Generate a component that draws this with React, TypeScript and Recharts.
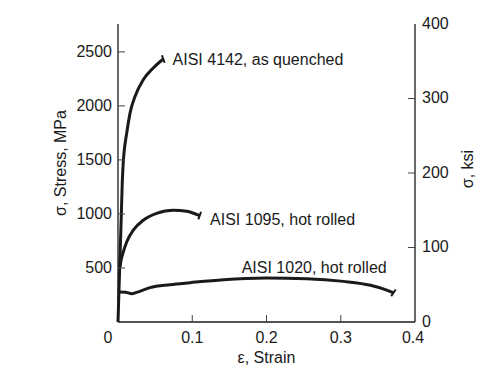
import React from "react";
import { LineChart, Line, XAxis, YAxis, ReferenceDot, Label } from "recharts";

// strain (-) vs engineering stress (MPa)
const aisi4142 = [
  { strain: 0, stress: 0 },
  { strain: 0.0045, stress: 1000 },
  { strain: 0.0058, stress: 1300 },
  { strain: 0.0071, stress: 1480 },
  { strain: 0.0085, stress: 1593 },
  { strain: 0.0117, stress: 1747 },
  { strain: 0.0162, stress: 1933 },
  { strain: 0.0229, stress: 2087 },
  { strain: 0.034, stress: 2242 },
  { strain: 0.0475, stress: 2351 },
  { strain: 0.061, stress: 2434 },
];

const aisi1095 = [
  { strain: 0.0027, stress: 509 },
  { strain: 0.0037, stress: 555 },
  { strain: 0.0071, stress: 648 },
  { strain: 0.0117, stress: 741 },
  { strain: 0.0206, stress: 850 },
  { strain: 0.034, stress: 942 },
  { strain: 0.052, stress: 1005 },
  { strain: 0.0745, stress: 1035 },
  { strain: 0.0925, stress: 1026 },
  { strain: 0.11, stress: 985 },
];

const aisi1020 = [
  { strain: 0.0025, stress: 278 },
  { strain: 0.01, stress: 276 },
  { strain: 0.0185, stress: 262 },
  { strain: 0.025, stress: 274 },
  { strain: 0.043, stress: 318 },
  { strain: 0.07, stress: 345 },
  { strain: 0.097, stress: 364 },
  { strain: 0.142, stress: 392 },
  { strain: 0.2, stress: 407 },
  { strain: 0.254, stress: 401 },
  { strain: 0.3035, stress: 376 },
  { strain: 0.34, stress: 340 },
  { strain: 0.36, stress: 300 },
  { strain: 0.371, stress: 270 },
];

const STRAIN_TICKS = [0, 0.1, 0.2, 0.3, 0.4];
const MPA_TICKS = [500, 1000, 1500, 2000, 2500];
const KSI_TICKS = [0, 100, 200, 300, 400];
const KSI_TO_MPA = 6.895;

const labels = [
  { text: "AISI 4142, as quenched", strain: 0.0735, stress: 2428 },
  { text: "AISI 1095, hot rolled", strain: 0.124, stress: 952 },
  { text: "AISI 1020, hot rolled", strain: 0.1666, stress: 509 },
];

// same 1020 curve in ksi, only so the right axis gets drawn
const aisi1020Ksi = aisi1020.map((d) => ({ strain: d.strain, ksi: d.stress / KSI_TO_MPA }));

const INK = "#1a1a1a";
const FONT = "'Liberation Sans', Arial, sans-serif";
const FS = 16;
const TICK = 7;

const BottomTick = (p: any) => {
  const v = p.payload.value;
  const dx = v === 0 ? -10 : v === 0.4 ? -2 : 0;
  return (
    <g>
      {v > 0 && v < 0.4 && (
        <line x1={p.x} x2={p.x} y1={p.y} y2={p.y - TICK} stroke="#444" />
      )}
      <text x={p.x + dx} y={p.y + 15} textAnchor="middle" dominantBaseline="central"
        fontFamily={FONT} fontSize={FS} fill={INK}>{v}</text>
    </g>
  );
};

const TopTick = (p: any) => (
  <line x1={p.x} x2={p.x} y1={p.y} y2={p.y + TICK} stroke="#444" />
);

const LeftTick = (p: any) => (
  <g>
    <line x1={p.x} x2={p.x + TICK} y1={p.y} y2={p.y} stroke="#444" />
    <text x={p.x - 6} y={p.y} textAnchor="end" dominantBaseline="central"
      fontFamily={FONT} fontSize={FS} fill={INK}>{p.payload.value}</text>
  </g>
);

const RightTick = (p: any) => {
  const v = p.payload.value;
  return (
    <g>
      {v > 0 && v < 400 && (
        <line x1={p.x - TICK} x2={p.x} y1={p.y} y2={p.y} stroke="#444" />
      )}
      <text x={p.x + 7} y={p.y - 1} textAnchor="start" dominantBaseline="central"
        fontFamily={FONT} fontSize={FS} fill={INK}>{v}</text>
    </g>
  );
};

// short fracture mark across the end of each curve
const endMark = (len: number, angle: number) => (p: any) => {
  if (p.index !== len - 1) return <g key={p.key} />;
  const a = (angle * Math.PI) / 180;
  const dx = Math.cos(a) * 4;
  const dy = Math.sin(a) * 4;
  return (
    <line key={p.key} x1={p.cx - dx} y1={p.cy - dy} x2={p.cx + dx} y2={p.cy + dy}
      stroke={INK} strokeWidth={2} />
  );
};

const curves = [
  { data: aisi4142, angle: 70 },
  { data: aisi1095, angle: 110 },
  { data: aisi1020, angle: -55 },
];

export default function App() {
  return (
    <div style={{ position: "absolute", left: 0, top: 0, background: "#fff" }}>
      <LineChart width={487} height={387} margin={{ top: 24, right: 0, bottom: 0, left: 0 }}>
        <XAxis
          type="number"
          dataKey="strain"
          domain={[0, 0.4]}
          ticks={STRAIN_TICKS}
          height={65}
          tickSize={0}
          tickMargin={0}
          tickLine={false}
          axisLine={{ stroke: INK, strokeWidth: 1.3 }}
          tick={BottomTick}
        >
          <Label
            content={(props: any) => {
              const vb = props.viewBox;
              return (
                <text x={vb.x + vb.width / 2} y={357} textAnchor="middle" dominantBaseline="central"
                  fontFamily={FONT} fontSize={FS} fill={INK}>ε, Strain</text>
              );
            }}
          />
        </XAxis>
        <XAxis
          xAxisId="top"
          orientation="top"
          type="number"
          dataKey="strain"
          domain={[0, 0.4]}
          ticks={[0.1, 0.2, 0.3]}
          height={0}
          tickSize={0}
          tickMargin={0}
          tickLine={false}
          axisLine={{ stroke: INK, strokeWidth: 1.3 }}
          tick={TopTick}
        />
        <YAxis
          yAxisId="mpa"
          type="number"
          domain={[0, 400 * KSI_TO_MPA]}
          ticks={MPA_TICKS}
          width={118}
          tickSize={0}
          tickMargin={0}
          tickLine={false}
          axisLine={{ stroke: INK, strokeWidth: 1.3 }}
          tick={LeftTick}
        >
          <Label
            content={(props: any) => {
              const vb = props.viewBox;
              const cy = vb.y + vb.height / 2 - 10;
              return (
                <text x={60} y={cy} transform={`rotate(-90 60 ${cy})`} textAnchor="middle"
                  dominantBaseline="central" fontFamily={FONT} fontSize={FS} fill={INK}>
                  σ, Stress, MPa
                </text>
              );
            }}
          />
        </YAxis>
        <YAxis
          yAxisId="ksi"
          orientation="right"
          type="number"
          domain={[0, 400]}
          ticks={KSI_TICKS}
          width={72}
          tickSize={0}
          tickMargin={0}
          tickLine={false}
          axisLine={{ stroke: INK, strokeWidth: 1.3 }}
          tick={RightTick}
        >
          <Label
            content={(props: any) => {
              const vb = props.viewBox;
              const cy = vb.y + vb.height / 2 - 4;
              return (
                <text x={467} y={cy} transform={`rotate(-90 467 ${cy})`} textAnchor="middle"
                  dominantBaseline="central" fontFamily={FONT} fontSize={FS} fill={INK}>
                  σ, ksi
                </text>
              );
            }}
          />
        </YAxis>
        <Line
          yAxisId="ksi"
          data={aisi1020Ksi}
          dataKey="ksi"
          stroke="none"
          dot={false}
          activeDot={false}
          isAnimationActive={false}
        />
        {curves.map((c, i) => (
          <Line
            key={i}
            yAxisId="mpa"
            data={c.data}
            dataKey="stress"
            type="monotone"
            stroke={INK}
            strokeWidth={3}
            dot={endMark(c.data.length, c.angle)}
            activeDot={false}
            isAnimationActive={false}
          />
        ))}
        {labels.map((l) => (
          <ReferenceDot
            key={l.text}
            yAxisId="mpa"
            x={l.strain}
            y={l.stress}
            r={0}
            stroke="none"
            fill="none"
            label={(props: any) => {
              const vb = props.viewBox;
              return (
                <text x={vb.x} y={vb.y} dominantBaseline="central" fontFamily={FONT}
                  fontSize={FS} fill={INK}>{l.text}</text>
              );
            }}
          />
        ))}
      </LineChart>
    </div>
  );
}
